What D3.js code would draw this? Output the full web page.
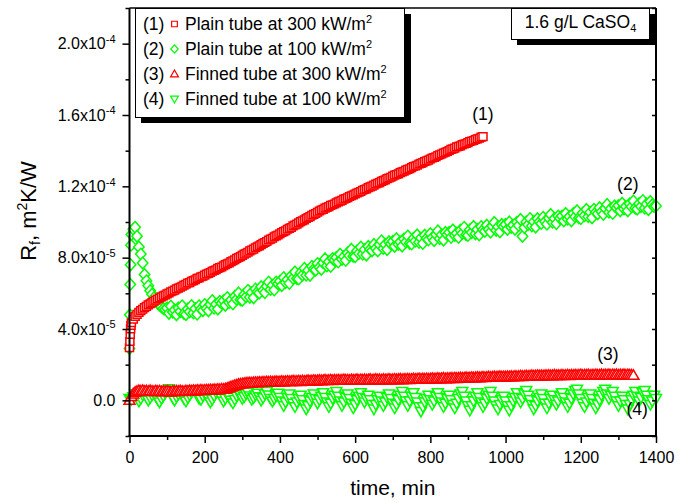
<!DOCTYPE html>
<html>
<head>
<meta charset="utf-8">
<script src="https://cdn.jsdelivr.net/npm/d3@7"></script>
<style>
  html, body { margin: 0; padding: 0; background: #fff; }
  svg { display: block; font-family: "Liberation Sans", Arial, sans-serif; }
</style>
</head>
<body>
<svg id="chart" width="690" height="503"></svg>
<script>
// Sampling grid, minutes (5-min logging interval)
const minutes = [
  0, 5, 10, 15, 20, 25, 30, 35, 40, 45, 50, 55, 60, 65, 70, 75, 80, 85, 90, 95,
  100, 105, 110, 115, 120, 125, 130, 135, 140, 145, 150, 155, 160, 165, 170, 175, 180, 185, 190, 195,
  200, 205, 210, 215, 220, 225, 230, 235, 240, 245, 250, 255, 260, 265, 270, 275, 280, 285, 290, 295,
  300, 305, 310, 315, 320, 325, 330, 335, 340, 345, 350, 355, 360, 365, 370, 375, 380, 385, 390, 395,
  400, 405, 410, 415, 420, 425, 430, 435, 440, 445, 450, 455, 460, 465, 470, 475, 480, 485, 490, 495,
  500, 505, 510, 515, 520, 525, 530, 535, 540, 545, 550, 555, 560, 565, 570, 575, 580, 585, 590, 595,
  600, 605, 610, 615, 620, 625, 630, 635, 640, 645, 650, 655, 660, 665, 670, 675, 680, 685, 690, 695,
  700, 705, 710, 715, 720, 725, 730, 735, 740, 745, 750, 755, 760, 765, 770, 775, 780, 785, 790, 795,
  800, 805, 810, 815, 820, 825, 830, 835, 840, 845, 850, 855, 860, 865, 870, 875, 880, 885, 890, 895,
  900, 905, 910, 915, 920, 925, 930, 935, 940, 945, 950, 955, 960, 965, 970, 975, 980, 985, 990, 995,
  1000, 1005, 1010, 1015, 1020, 1025, 1030, 1035, 1040, 1045, 1050, 1055, 1060, 1065, 1070, 1075, 1080, 1085, 1090, 1095,
  1100, 1105, 1110, 1115, 1120, 1125, 1130, 1135, 1140, 1145, 1150, 1155, 1160, 1165, 1170, 1175, 1180, 1185, 1190, 1195,
  1200, 1205, 1210, 1215, 1220, 1225, 1230, 1235, 1240, 1245, 1250, 1255, 1260, 1265, 1270, 1275, 1280, 1285, 1290, 1295,
  1300, 1305, 1310, 1315, 1320, 1325, 1330, 1335, 1340, 1345, 1350, 1355, 1360, 1365, 1370, 1375, 1380, 1385, 1390, 1395,
  1400
];

// Extra readings logged during the first minutes of each run
const startupMinutes = [1, 2, 3, 4];

// Fouling resistance Rf, in units of 1e-5 m2K/W
const RF_UNIT = 1e-5;

// (1) Plain tube at 300 kW/m2
const plain300 = [
  2.95, 4.35, 4.55, 4.70, 4.82, 4.93, 5.03, 5.11, 5.20, 5.27,
  5.35, 5.42, 5.49, 5.56, 5.62, 5.68, 5.74, 5.80, 5.86, 5.91,
  5.97, 6.02, 6.09, 6.13, 6.18, 6.25, 6.29, 6.34, 6.40, 6.46,
  6.51, 6.58, 6.60, 6.68, 6.71, 6.76, 6.84, 6.86, 6.93, 6.96,
  7.02, 7.08, 7.12, 7.17, 7.24, 7.28, 7.32, 7.40, 7.44, 7.48,
  7.55, 7.61, 7.66, 7.70, 7.78, 7.83, 7.88, 7.96, 8.01, 8.06,
  8.13, 8.20, 8.25, 8.30, 8.38, 8.43, 8.48, 8.56, 8.61, 8.66,
  8.73, 8.80, 8.85, 8.91, 8.99, 9.04, 9.09, 9.17, 9.22, 9.27,
  9.34, 9.41, 9.46, 9.51, 9.59, 9.64, 9.69, 9.78, 9.83, 9.88,
  9.95, 10.02, 10.07, 10.12, 10.20, 10.25, 10.30, 10.38, 10.43, 10.48,
  10.55, 10.62, 10.67, 10.71, 10.78, 10.82, 10.86, 10.93, 10.97, 11.01,
  11.07, 11.13, 11.17, 11.21, 11.28, 11.32, 11.36, 11.43, 11.47, 11.51,
  11.57, 11.63, 11.67, 11.71, 11.78, 11.82, 11.86, 11.93, 11.97, 12.01,
  12.07, 12.13, 12.17, 12.21, 12.28, 12.32, 12.36, 12.43, 12.47, 12.51,
  12.57, 12.63, 12.66, 12.70, 12.77, 12.81, 12.85, 12.91, 12.95, 12.99,
  13.05, 13.11, 13.14, 13.18, 13.25, 13.29, 13.33, 13.39, 13.43, 13.47,
  13.53, 13.59, 13.62, 13.66, 13.73, 13.77, 13.81, 13.87, 13.91, 13.95,
  14.01, 14.07, 14.10, 14.14, 14.21, 14.24, 14.27, 14.34, 14.37, 14.40,
  14.45, 14.51, 14.54, 14.57, 14.63, 14.66, 14.70, 14.76, 14.79
];
const plain300Startup = [3.30, 3.70, 4.00, 4.20];

// (2) Plain tube at 100 kW/m2
const plain100 = [
  2.90, 9.30, 9.60, 9.70, 9.20, 8.60, 8.20, 7.70, 7.05, 6.70,
  6.42, 6.15, 5.95, 5.75, 5.58, 5.45, 5.33, 5.24, 5.15, 5.10,
  5.18, 4.88, 5.28, 4.95, 5.06, 4.80, 5.18, 4.98, 5.30, 4.87,
  4.81, 5.12, 4.97, 5.31, 4.90, 5.14, 4.83, 5.30, 5.12, 5.04,
  5.37, 5.15, 5.02, 5.37, 5.59, 5.17, 5.39, 5.12, 5.55, 5.45,
  5.58, 5.33, 5.76, 5.48, 5.62, 5.41, 5.82, 5.67, 6.02, 5.64,
  5.61, 5.94, 5.81, 6.17, 5.78, 6.04, 5.75, 6.24, 6.08, 6.02,
  6.37, 6.16, 6.04, 6.40, 6.63, 6.22, 6.45, 6.19, 6.63, 6.54,
  6.68, 6.44, 6.88, 6.61, 6.76, 6.56, 6.98, 6.84, 7.20, 6.83,
  6.81, 7.15, 7.03, 7.40, 7.02, 7.29, 7.01, 7.51, 7.36, 7.31,
  7.67, 7.46, 7.35, 7.71, 7.94, 7.54, 7.77, 7.51, 7.95, 7.87,
  8.01, 7.76, 8.19, 7.91, 8.06, 7.85, 8.26, 8.11, 8.47, 8.08,
  8.06, 8.38, 8.24, 8.59, 8.20, 8.45, 8.15, 8.63, 8.47, 8.39,
  8.74, 8.52, 8.38, 8.73, 8.94, 8.52, 8.74, 8.46, 8.89, 8.78,
  8.91, 8.64, 9.06, 8.75, 8.88, 8.65, 9.05, 8.88, 9.21, 8.81,
  8.77, 9.08, 8.93, 9.27, 8.86, 9.10, 8.80, 9.26, 9.09, 9.00,
  9.34, 9.11, 8.96, 9.30, 9.50, 9.07, 9.28, 8.99, 9.41, 9.29,
  9.41, 9.14, 9.55, 9.25, 9.37, 9.14, 9.54, 9.36, 9.70, 9.29,
  9.25, 9.56, 9.41, 9.75, 9.34, 9.58, 9.28, 9.74, 9.57, 9.48,
  9.82, 9.58, 9.44, 9.77, 9.97, 9.54, 9.74, 9.45, 9.86, 9.75,
  9.86, 9.59, 10.00, 9.70, 9.82, 9.59, 9.98, 9.81, 10.14, 9.20,
  9.69, 10.00, 9.85, 10.19, 9.78, 10.02, 9.72, 10.18, 10.01, 9.92,
  10.26, 10.03, 9.88, 10.22, 10.42, 9.99, 10.20, 9.91, 10.33, 10.21,
  10.33, 10.06, 10.48, 10.17, 10.30, 10.07, 10.47, 10.30, 10.63, 10.23,
  10.19, 10.50, 10.36, 10.70, 10.30, 10.54, 10.24, 10.71, 10.54, 10.46,
  10.80, 10.57, 10.43, 10.77, 10.98, 10.55, 10.76, 10.48, 10.90, 10.79,
  10.91, 10.63, 11.05, 10.74, 10.87, 10.63, 11.02, 10.85, 11.18, 10.78,
  10.73, 11.03, 10.87, 11.20, 10.78, 11.01, 10.70, 11.15, 10.97, 10.87,
  10.90
];
const plain100Startup = [4.80, 6.50, 7.60, 8.70];

// (3) Finned tube at 300 kW/m2
const finned300 = [
  0.00, 0.22, 0.36, 0.45, 0.50, 0.54, 0.52, 0.55, 0.51, 0.53,
  0.50, 0.54, 0.51, 0.49, 0.53, 0.50, 0.52, 0.48, 0.51, 0.49,
  0.52, 0.50, 0.47, 0.51, 0.49, 0.52, 0.50, 0.53, 0.51, 0.49,
  0.53, 0.51, 0.54, 0.52, 0.55, 0.53, 0.56, 0.54, 0.57, 0.55,
  0.56, 0.58, 0.57, 0.59, 0.58, 0.60, 0.59, 0.61, 0.60, 0.63,
  0.62, 0.64, 0.67, 0.71, 0.75, 0.79, 0.83, 0.86, 0.89, 0.91,
  0.93, 0.94, 0.96, 0.97, 0.98, 0.97, 0.99, 1.00, 0.99, 1.01,
  1.00, 1.02, 1.01, 1.03, 1.02, 1.04, 1.02, 1.03, 1.05, 1.03,
  1.04, 1.06, 1.04, 1.05, 1.07, 1.05, 1.06, 1.08, 1.06, 1.07,
  1.08, 1.06, 1.09, 1.07, 1.08, 1.10, 1.08, 1.09, 1.11, 1.09,
  1.10, 1.12, 1.10, 1.11, 1.13, 1.11, 1.12, 1.14, 1.11, 1.13,
  1.12, 1.14, 1.12, 1.13, 1.15, 1.13, 1.14, 1.12, 1.15, 1.13,
  1.14, 1.16, 1.13, 1.15, 1.14, 1.16, 1.14, 1.15, 1.17, 1.14,
  1.15, 1.17, 1.15, 1.16, 1.14, 1.17, 1.15, 1.16, 1.18, 1.15,
  1.16, 1.18, 1.16, 1.17, 1.19, 1.16, 1.18, 1.17, 1.19, 1.17,
  1.18, 1.20, 1.18, 1.19, 1.21, 1.18, 1.20, 1.19, 1.21, 1.19,
  1.20, 1.22, 1.20, 1.21, 1.23, 1.21, 1.22, 1.24, 1.21, 1.23,
  1.22, 1.24, 1.23, 1.25, 1.23, 1.24, 1.26, 1.24, 1.25, 1.27,
  1.25, 1.26, 1.28, 1.26, 1.27, 1.29, 1.27, 1.28, 1.30, 1.28,
  1.29, 1.31, 1.29, 1.30, 1.32, 1.30, 1.31, 1.33, 1.31, 1.32,
  1.31, 1.33, 1.32, 1.34, 1.32, 1.35, 1.33, 1.34, 1.36, 1.34,
  1.35, 1.37, 1.35, 1.36, 1.38, 1.36, 1.37, 1.39, 1.37, 1.38,
  1.37, 1.39, 1.38, 1.40, 1.38, 1.39, 1.41, 1.38, 1.40, 1.39,
  1.41, 1.39, 1.40, 1.42, 1.39, 1.41, 1.40, 1.42, 1.40, 1.41,
  1.43, 1.40, 1.42, 1.41, 1.43, 1.40, 1.42, 1.41, 1.43, 1.41,
  1.42, 1.44, 1.41, 1.43, 1.42, 1.44, 1.41, 1.43, 1.42, 1.44,
  1.41, 1.43, 1.42, 1.44, 1.41, 1.43, 1.42, 1.41, 1.40
];

// (4) Finned tube at 100 kW/m2
const finned100 = [
  0.10, 0.05, 0.20, 0.35, 0.15, -0.05, 0.10, 0.30, 0.40, 0.20, 0.00, 0.15, 0.30, 0.45, 0.25, 0.05, -0.10, 0.10, 0.25, 0.40,
  0.55, 0.65, 0.40, 0.15, 0.00, 0.20, 0.35, 0.50, 0.30, 0.10, -0.05, 0.15, 0.30, 0.45, 0.60, 0.55, 0.35, 0.10, 0.05, 0.25,
  0.40, 0.30, 0.10, -0.10, 0.05, 0.25, 0.45, 0.60, 0.40, 0.15, -0.05, 0.10, 0.30, 0.20, 0.00, -0.15, 0.05, 0.25, 0.40, 0.30,
  0.10, 0.20, 0.35, 0.45, 0.25, 0.05, 0.15, 0.30, 0.40, 0.20, 0.00, 0.15, 0.35, 0.50, 0.30, 0.10, -0.05, 0.10, 0.25, 0.40,
  0.16, -0.04, -0.30, -0.10, 0.16, 0.36, 0.10, -0.17, -0.36, -0.10, 0.10, 0.29, 0.03, -0.23, -0.49, -0.30, -0.04, 0.16, 0.36, 0.10,
  -0.17, 0.03, 0.23, 0.42, 0.16, -0.10, -0.36, -0.17, 0.10, 0.29, 0.49, 0.23, -0.04, -0.30, -0.10, 0.16, 0.36, 0.10, -0.17, -0.43,
  -0.23, 0.03, 0.23, 0.42, 0.16, -0.10, 0.10, 0.29, 0.03, -0.23, -0.49, -0.23, 0.03, 0.23, -0.04, -0.30, -0.10, 0.16, 0.36, 0.10,
  -0.17, -0.43, -0.23, 0.03, 0.29, 0.49, 0.23, -0.04, -0.30, -0.04, 0.23, 0.42, 0.16, -0.10, -0.36, -0.62, -0.36, -0.10, 0.10, 0.29,
  0.03, -0.23, -0.04, 0.23, 0.42, 0.16, -0.10, -0.36, -0.17, 0.10, 0.29, 0.03, -0.23, -0.43, -0.17, 0.10, 0.36, 0.49, 0.23, -0.04,
  -0.30, -0.56, -0.30, -0.04, 0.23, 0.42, 0.16, -0.10, -0.36, -0.17, 0.10, 0.29, 0.49, 0.23, -0.04, -0.30, -0.49, -0.23, 0.03, 0.23,
  -0.04, -0.30, -0.56, -0.30, -0.04, 0.16, 0.42, 0.16, -0.10, 0.10, 0.36, 0.55, 0.29, 0.03, -0.23, -0.49, -0.30, -0.04, 0.16, 0.36,
  0.10, -0.17, -0.43, -0.17, 0.10, 0.29, 0.03, -0.23, -0.04, 0.23, 0.42, 0.16, -0.10, -0.36, -0.17, 0.10, 0.36, 0.55, 0.62, 0.36,
  0.10, -0.17, -0.36, -0.10, 0.16, 0.36, 0.10, -0.17, -0.43, -0.23, 0.03, 0.29, 0.49, 0.62, 0.36, 0.10, 0.29, 0.49, 0.23, -0.04,
  -0.30, -0.04, 0.23, 0.03, -0.23, -0.49, -0.23, 0.03, 0.29, 0.49, 0.23, -0.04, 0.16, 0.42, 0.55, 0.29, 0.03, -0.23, -0.04, 0.29,
  0.10
];

// Axis ticks and labels
const xTicksMajor = [0, 200, 400, 600, 800, 1000, 1200, 1400];
const xTicksMinor = [100, 300, 500, 700, 900, 1100, 1300];
const yTicksMajor = [0, 4e-5, 8e-5, 1.2e-4, 1.6e-4, 2.0e-4];
const yTickMantissa = ["0.0", "4.0", "8.0", "1.2", "1.6", "2.0"];
const yTickExponent = ["", "-5", "-5", "-4", "-4", "-4"];
const yTicksMinor = [-2e-5, 2e-5, 6e-5, 1.0e-4, 1.4e-4, 1.8e-4, 2.2e-4];

const legendNumbers = ["(1)", "(2)", "(3)", "(4)"];
const legendLabels = [
  "Plain tube at 300 kW/m",
  "Plain tube at 100 kW/m",
  "Finned tube at 300 kW/m",
  "Finned tube at 100 kW/m"
];
const curveTags = ["(1)", "(2)", "(3)", "(4)"];
const curveTagAt = [[940, 1.57e-4], [1325, 1.18e-4], [1272, 2.26e-5], [1350, -8.2e-6]];

// ---------------------------------------------------------------
const svg = d3.select("#chart");
const plot = { left: 129.5, right: 656, top: 8, bottom: 436 };

const x = d3.scaleLinear().domain([0, 1400]).range([plot.left, plot.right]);
const y = d3.scaleLinear().domain([-2e-5, 2.2e-4]).range([plot.bottom, plot.top]);

const RED = "#ff0000", GREEN = "#00ff00";

// Open marker outlines, s = scale factor
const markerShapes = {
  square: s => `M${-4 * s},${-3.8 * s}h${8 * s}v${7.6 * s}h${-8 * s}Z`,
  diamond: s => `M0,${-5.8 * s}L${5.2 * s},0L0,${5.8 * s}L${-5.2 * s},0Z`,
  up: s => `M0,${-5.6 * s}L${5.5 * s},${4 * s}L${-5.5 * s},${4 * s}Z`,
  down: s => `M0,${5.6 * s}L${5.5 * s},${-4 * s}L${-5.5 * s},${-4 * s}Z`
};

function seriesPoints(values, startup) {
  const pts = values.map((v, i) => ({ t: minutes[i], rf: v * RF_UNIT }));
  if (startup) startup.forEach((v, i) => pts.push({ t: startupMinutes[i], rf: v * RF_UNIT }));
  return pts.sort((a, b) => a.t - b.t);
}

const series = [
  { key: "plain300", values: plain300, startup: plain300Startup, color: RED, shape: "square" },
  { key: "plain100", values: plain100, startup: plain100Startup, color: GREEN, shape: "diamond" },
  { key: "finned300", values: finned300, color: RED, shape: "up" },
  { key: "finned100", values: finned100, color: GREEN, shape: "down" }
];

// Drawing order: green runs beneath the red runs
const drawOrder = ["finned100", "plain100", "finned300", "plain300"];

const marks = svg.append("g").attr("class", "marks");
drawOrder.forEach(key => {
  const s = series.find(d => d.key === key);
  marks.append("g")
    .attr("class", key)
    .selectAll("path")
    .data(seriesPoints(s.values, s.startup))
    .join("path")
    .attr("d", markerShapes[s.shape](1))
    .attr("transform", d => `translate(${x(d.t)},${y(d.rf)})`)
    .attr("fill", "#fff")
    .attr("stroke", s.color)
    .attr("stroke-width", 1.5);
});

// Axes
const axes = svg.append("g").attr("class", "axes");

function tickAxis(axis, transform) {
  const g = axes.append("g").attr("transform", transform).call(axis);
  g.select(".domain").remove();
  g.selectAll(".tick line").attr("stroke", "#000").attr("stroke-width", 1.5);
  g.attr("font-family", null).attr("font-size", 16);
  g.selectAll(".tick text").attr("fill", "#000");
  return g;
}

tickAxis(d3.axisBottom(x).tickValues(xTicksMajor).tickSize(7).tickPadding(8.5).tickFormat(d3.format("d")),
  `translate(0,${plot.bottom})`);
tickAxis(d3.axisBottom(x).tickValues(xTicksMinor).tickSize(4).tickFormat(""),
  `translate(0,${plot.bottom})`);
tickAxis(d3.axisLeft(y).tickValues(yTicksMajor).tickSize(7).tickFormat(""),
  `translate(${plot.left},0)`);
tickAxis(d3.axisLeft(y).tickValues(yTicksMinor).tickSize(4).tickFormat(""),
  `translate(${plot.left},0)`);
tickAxis(d3.axisLeft(y).tickValues(yTicksMajor.concat(yTicksMinor)).tickSize(4).tickFormat(""),
  `translate(${plot.right},0)`);

// Frame
axes.append("line").attr("x1", plot.left).attr("x2", plot.right).attr("y1", plot.top).attr("y2", plot.top)
  .attr("stroke", "#000").attr("stroke-width", 1.3);
axes.append("line").attr("x1", plot.right).attr("x2", plot.right).attr("y1", plot.top).attr("y2", plot.bottom)
  .attr("stroke", "#000").attr("stroke-width", 2);
axes.append("line").attr("x1", plot.left).attr("x2", plot.left).attr("y1", plot.top).attr("y2", plot.bottom + 1)
  .attr("stroke", "#000").attr("stroke-width", 2);
axes.append("line").attr("x1", plot.left - 1).attr("x2", plot.right + 1).attr("y1", plot.bottom).attr("y2", plot.bottom)
  .attr("stroke", "#000").attr("stroke-width", 2);

// Y tick labels with powers of ten
const yLabels = axes.append("g").attr("font-size", 16).attr("fill", "#000");
yTicksMajor.forEach((v, i) => {
  const t = yLabels.append("text")
    .attr("x", 115.5)
    .attr("y", y(v) + 5.7)
    .attr("text-anchor", "end");
  if (yTickExponent[i]) {
    t.append("tspan").text(yTickMantissa[i] + "x10");
    t.append("tspan").attr("font-size", 11).attr("dy", -6.5).text(yTickExponent[i]);
  } else {
    t.text(yTickMantissa[i]);
  }
});

// Axis titles
svg.append("text")
  .attr("x", (plot.left + plot.right) / 2)
  .attr("y", 495)
  .attr("text-anchor", "middle")
  .attr("font-size", 21)
  .text("time, min");

const yTitle = svg.append("text")
  .attr("transform", "translate(36,211) rotate(-90)")
  .attr("text-anchor", "middle")
  .attr("font-size", 22);
yTitle.append("tspan").text("R");
yTitle.append("tspan").attr("font-size", 14).attr("dy", 4).text("f");
yTitle.append("tspan").attr("dy", -4).text(", m");
yTitle.append("tspan").attr("font-size", 14).attr("dy", -9).text("2");
yTitle.append("tspan").attr("dy", 9).text("K/W");

// Legend
const legend = svg.append("g").attr("class", "legend");
const lg = { x: 135, y: 8, w: 270, h: 109, shadow: 6 };
legend.append("rect").attr("x", lg.x + lg.shadow).attr("y", lg.y + lg.shadow)
  .attr("width", lg.w).attr("height", lg.h).attr("fill", "#000");
legend.append("rect").attr("x", lg.x + 0.5).attr("y", lg.y + 0.5)
  .attr("width", lg.w - 1).attr("height", lg.h).attr("fill", "#fff")
  .attr("stroke", "#000").attr("stroke-width", 1);

series.forEach((s, i) => {
  const cy = 24 + i * 25;
  legend.append("text").attr("x", 143).attr("y", cy + 6).attr("font-size", 17.5).text(legendNumbers[i]);
  legend.append("path")
    .attr("d", markerShapes[s.shape](0.72))
    .attr("transform", `translate(174.5,${cy})`)
    .attr("fill", "#fff").attr("stroke", s.color).attr("stroke-width", 1.2);
  const t = legend.append("text").attr("x", 185).attr("y", cy + 6).attr("font-size", 17.5);
  t.append("tspan").text(legendLabels[i]);
  t.append("tspan").attr("font-size", 11).attr("dy", -7).text("2");
});

// Solution concentration box
const cb = { x: 511, y: 8, w: 139, h: 31, shadow: 6 };
legend.append("rect").attr("x", cb.x + cb.shadow).attr("y", cb.y + cb.shadow)
  .attr("width", cb.w).attr("height", cb.h).attr("fill", "#000");
legend.append("rect").attr("x", cb.x + 0.5).attr("y", cb.y + 0.5)
  .attr("width", cb.w - 1).attr("height", cb.h).attr("fill", "#fff")
  .attr("stroke", "#000").attr("stroke-width", 1);
const ct = legend.append("text").attr("x", cb.x + cb.w / 2).attr("y", 28)
  .attr("text-anchor", "middle").attr("font-size", 17.5);
ct.append("tspan").text("1.6 g/L CaSO");
ct.append("tspan").attr("font-size", 11).attr("dy", 4).text("4");

// Curve tags
svg.append("g").attr("font-size", 17.5).attr("text-anchor", "middle")
  .selectAll("text")
  .data(curveTags)
  .join("text")
  .attr("x", (d, i) => x(curveTagAt[i][0]))
  .attr("y", (d, i) => y(curveTagAt[i][1]))
  .text(d => d);
</script>
</body>
</html>
